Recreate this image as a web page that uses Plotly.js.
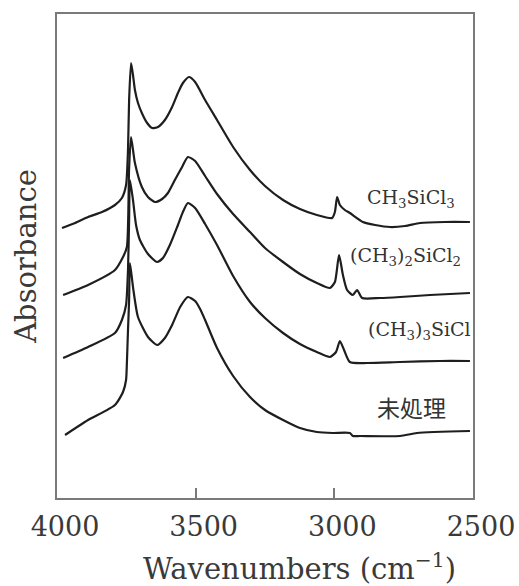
<!DOCTYPE html>
<html>
<head>
<meta charset="utf-8">
<script src="https://cdn.plot.ly/plotly-3.0.1.min.js"></script>
<style>html,body{margin:0;padding:0;background:#fff;}#chart{width:519px;height:586px;}</style>
</head>
<body>
<div id="chart"></div>
<script>
// Series names
const seriesNames = ["CH<sub>3</sub>SiCl<sub>3</sub>", "(CH<sub>3</sub>)<sub>2</sub>SiCl<sub>2</sub>", "(CH<sub>3</sub>)<sub>3</sub>SiCl", "未処理"];

// Spectrum 1: CH3SiCl3 (wavenumber, stacked absorbance, arbitrary units)
const wn1 = [3982,3935,3888,3838,3791,3766,3751,3744,3740,3733,3726,3719,3708,3694,3675,3657,3636,3611,3585,3564,3546,3524,3502,3466,3423,3365,3304,3250,3185,3124,3063,3008,2998,2990,2980,2962,2944,2897,2853,2799,2745,2691,2601,2511];
const ab1 = [270,275,281,286,293,300,313,348,398,435,423,408,395,385,375,370,371,378,391,405,415,421,416,398,378,351,328,312,298,289,283,280,286,301,293,288,285,276,273,271,272,275,276,276];

// Spectrum 2: (CH3)2SiCl2
const wn2 = [3978,3888,3791,3762,3748,3740,3733,3719,3694,3672,3647,3621,3600,3575,3549,3528,3502,3466,3423,3365,3304,3250,3185,3124,3063,3016,2998,2983,2969,2954,2933,2918,2900,2835,2763,2655,2511];
const ab2 = [203,213,228,241,251,330,361,335,311,301,296,299,305,318,331,341,337,322,304,284,266,250,236,224,215,210,216,243,223,208,203,208,200,200,201,203,205];

// Spectrum 3: (CH3)3SiCl
const wn3 = [3978,3888,3791,3766,3751,3744,3740,3737,3726,3715,3701,3672,3639,3618,3593,3564,3546,3528,3502,3466,3423,3365,3304,3250,3185,3124,3063,3016,2994,2980,2965,2944,2882,2763,2619,2511];
const ab3 = [140,151,165,178,193,228,278,318,298,273,258,244,236,240,253,273,286,295,290,274,253,222,196,180,165,154,146,141,146,157,148,136,135,136,137,137];

// Spectrum 4: 未処理 (untreated)
const wn4 = [3971,3888,3791,3762,3751,3748,3744,3740,3737,3726,3708,3672,3639,3611,3585,3556,3528,3502,3484,3466,3423,3365,3304,3250,3185,3124,3063,3005,2944,2933,2907,2763,2702,2511];
const ab4 = [63,78,93,106,118,135,168,198,235,211,181,161,153,160,173,191,201,197,189,178,150,122,101,88,78,70,66,65,65,62,62,62,65,67];

const xTicks = [4000, 3500, 3000, 2500];
const xTickText = ["4000", "3500", "3000", "2500"];

const wns = [wn1, wn2, wn3, wn4];
const abs = [ab1, ab2, ab3, ab4];

const traces = wns.map((w, i) => ({
  x: w, y: abs[i], type: "scatter", mode: "lines",
  name: seriesNames[i],
  line: {color: "#1e1e1e", width: 2.2, shape: "spline", smoothing: 0.6},
  hoverinfo: "skip"
}));

const serif = "DejaVu Serif, Liberation Serif, serif";

const layout = {
  width: 519, height: 586,
  margin: {l: 57, r: 46, t: 14, b: 88},
  paper_bgcolor: "#fff", plot_bgcolor: "#fff",
  showlegend: false,
  xaxis: {
    range: [4000, 2500], autorange: false,
    tickmode: "array", tickvals: xTicks, ticktext: xTickText,
    ticks: "inside", ticklen: 10, tickwidth: 2, tickcolor: "#7a7a7a",
    showline: true, mirror: true, linecolor: "#7a7a7a", linewidth: 2,
    showgrid: false, zeroline: false,
    tickfont: {family: serif, size: 27, color: "#3a3a3a"},
    ticklabelshift: -8, ticklabelstandoff: 4,
    title: {text: "", font: {family: serif, size: 27, color: "#3a3a3a"}}
  },
  yaxis: {
    range: [0, 484], autorange: false,
    showticklabels: false, ticks: "",
    showline: true, mirror: true, linecolor: "#7a7a7a", linewidth: 2,
    showgrid: false, zeroline: false,
    title: {text: "Absorbance", font: {family: serif, size: 29, color: "#3a3a3a"}, standoff: 10}
  },
  annotations: [
    {xref: "paper", yref: "paper", x: 0.582, y: -0.142, xanchor: "center", yanchor: "middle",
     text: "Wavenumbers (cm<sup>−1</sup>)", showarrow: false,
     font: {family: serif, size: 29, color: "#3a3a3a"}},
    {xref: "x", yref: "y", x: 2724, y: 300, xanchor: "center", yanchor: "middle",
     text: seriesNames[0], showarrow: false, font: {family: serif, size: 19, color: "#333"}},
    {xref: "x", yref: "y", x: 2951, y: 242, xanchor: "left", yanchor: "middle",
     text: seriesNames[1], showarrow: false, font: {family: serif, size: 19, color: "#333"}},
    {xref: "x", yref: "y", x: 2500, y: 168, xanchor: "right", yanchor: "middle",
     text: seriesNames[2], showarrow: false, font: {family: serif, size: 19, color: "#333"}},
    {xref: "x", yref: "y", x: 2720, y: 91, xanchor: "center", yanchor: "middle",
     text: seriesNames[3], showarrow: false, font: {family: "Noto Sans CJK JP, sans-serif", size: 23, color: "#333"}}
  ]
};

Plotly.newPlot("chart", traces, layout, {staticPlot: true, displayModeBar: false});
</script>
</body>
</html>
